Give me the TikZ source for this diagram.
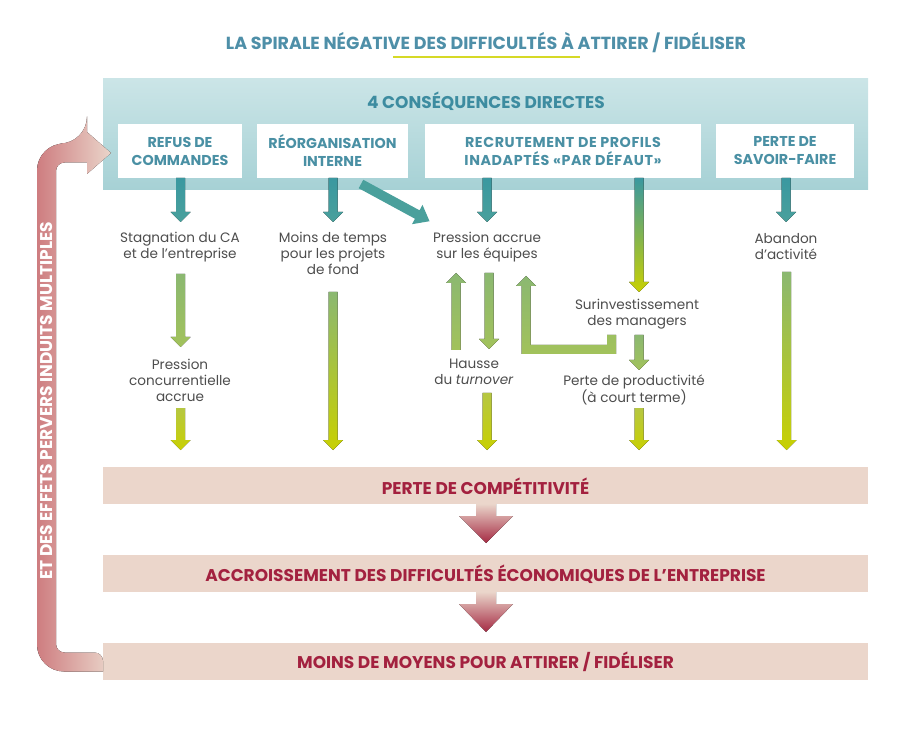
\documentclass[tikz,border=0pt]{standalone}
\usepackage{fontspec}
\setmainfont{Poppins}
\definecolor{titleblue}{HTML}{4E8FA8}
\definecolor{headteal}{HTML}{3D8CA0}
\definecolor{boxtxt}{HTML}{4A90A4}
\definecolor{boxtop}{HTML}{CBE5E7}
\definecolor{boxbot}{HTML}{A6D1D5}
\definecolor{tealA}{HTML}{3A98A0}
\definecolor{tealB}{HTML}{4AA09C}
\definecolor{greenA}{HTML}{8BB871}
\definecolor{greenB}{HTML}{A2C25B}
\definecolor{yelA}{HTML}{B6C742}
\definecolor{yelB}{HTML}{C8D002}
\definecolor{bandcol}{HTML}{EBD6CB}
\definecolor{redtxt}{HTML}{A3213F}
\definecolor{redarr}{HTML}{A52A43}
\definecolor{pinkdark}{HTML}{CE7D80}
\definecolor{pinklight}{HTML}{EAD5CA}
\definecolor{txtgray}{HTML}{4D4D4D}
\definecolor{underl}{HTML}{D6D926}
\newcommand\darr[5]{\fill[top color=#4,bottom color=#5] (#1-4.5,#2) -- (#1+4.5,#2) -- (#1+4.5,#3-10) -- (#1+10,#3-10) -- (#1,#3) -- (#1-10,#3-10) -- (#1-4.5,#3-10) -- cycle;}
\newcommand\uarr[5]{\fill[top color=#4,bottom color=#5] (#1-4.5,#3) -- (#1+4.5,#3) -- (#1+4.5,#2+10) -- (#1+10,#2+10) -- (#1,#2) -- (#1-10,#2+10) -- (#1-4.5,#2+10) -- cycle;}
\begin{document}
\begin{tikzpicture}[x=1pt,y=-1pt,
  body/.style={align=center,inner sep=0pt,text=txtgray,font=\fontsize{13.6}{16}\selectfont},
  boxlabel/.style={align=center,inner sep=0pt,text=boxtxt,font=\bfseries\fontsize{14.3}{18}\selectfont},
  bandlabel/.style={inner sep=0pt,text=redtxt,font=\bfseries\fontsize{17}{18}\selectfont},
  wbox/.style={fill=white,draw=none}]
\useasboundingbox (0,0) rectangle (900,743);
% title
\node[inner sep=0pt,text=titleblue,font=\bfseries\fontsize{17.5}{18}\selectfont] (title) at (486,43) {LA SPIRALE NÉGATIVE DES DIFFICULTÉS À ATTIRER / FIDÉLISER};
\draw[underl,line width=2pt] (393,57) -- (580,57);
% big teal box
\fill[top color=boxtop,bottom color=boxbot] (103,79) rectangle (868,190);
\node[inner sep=0pt,text=headteal,font=\bfseries\fontsize{17}{18}\selectfont] (cons) at (486,101) {4 CONSÉQUENCES DIRECTES};
\fill[wbox] (118,124) rectangle (242,178);
\fill[wbox] (257,124) rectangle (408,178);
\fill[wbox] (425,124) rectangle (701,178);
\fill[wbox] (716,124) rectangle (854,178);
\node[boxlabel] (b1) at (180,151) {REFUS DE\\COMMANDES};
\node[boxlabel] (b2) at (332.5,151) {RÉORGANISATION\\INTERNE};
\node[boxlabel,font=\bfseries\fontsize{14.3}{18}\addfontfeatures{LetterSpace=4}] (b3) at (563,151) {RECRUTEMENT DE PROFILS\\INADAPTÉS «PAR DÉFAUT»};
\node[boxlabel] (b4) at (785,151) {PERTE DE\\SAVOIR-FAIRE};
% teal arrows
\darr{180.5}{178}{222}{tealA}{tealB}
\darr{333}{178}{222}{tealA}{tealB}
\darr{487}{178}{222}{tealA}{tealB}
\darr{639}{178}{292}{tealA}{yelB}
\darr{786}{178}{222}{tealA}{tealB}
\begin{scope}[shift={(361,184)},rotate=-28.5]
\fill[tealB] (0,-4.8) -- (64,-4.8) -- (64,-11) -- (78,0) -- (64,11) -- (64,4.8) -- (0,4.8) -- cycle;
\end{scope}
% level 1 texts
\node[body] (t1) at (180,247) {Stagnation du CA\\et de l’entreprise};
\node[body] (t2) at (333,253) {Moins de temps\\pour les projets\\de fond};
\node[body] (t3) at (487,247) {Pression accrue\\sur les équipes};
\node[body] (t5) at (786,247) {Abandon\\d’activité};
\node[body] (t4) at (637,314) {Surinvestissement\\des managers};
% green arrows
\darr{180.5}{274}{347}{greenA}{greenB}
\node[body] (t6) at (180,380) {Pression\\concurrentielle\\accrue};
\darr{180.5}{408}{450}{yelA}{yelB}
\darr{333}{292}{450}{greenA}{yelB}
\uarr{456}{273}{350}{greenA}{greenB}
\darr{489}{273}{349}{greenA}{greenB}
\node[body] (t7) at (474,372) {Hausse\\du \textit{turnover}};
\darr{487}{393}{450}{yelA}{yelB}
\fill[top color=greenA,bottom color=greenB] (607,335) -- (616,335) -- (616,354) -- (521.5,354) -- (521.5,286) -- (516,286) -- (526,276) -- (536,286) -- (530.5,286) -- (530.5,345) -- (607,345) -- cycle;
\darr{639}{335}{370}{greenA}{greenB}
\node[body] (t8) at (634,390) {Perte de productivité\\(à court terme)};
\darr{639}{408}{450}{yelA}{yelB}
\darr{786.5}{272}{450}{greenA}{yelB}
% bands
\fill[bandcol] (103,467) rectangle (868,504);
\fill[bandcol] (103,555) rectangle (868,592);
\fill[bandcol] (103,643) rectangle (868,680);
\node[bandlabel] (p1) at (485.5,486) {PERTE DE COMPÉTITIVITÉ};
\node[bandlabel] (p2) at (485.5,574) {ACCROISSEMENT DES DIFFICULTÉS ÉCONOMIQUES DE L’ENTREPRISE};
\node[bandlabel] (p3) at (485.5,662) {MOINS DE MOYENS POUR ATTIRER / FIDÉLISER};
% red arrows
\fill[top color=pinklight,bottom color=redarr] (476,504) -- (496,504) -- (496,516) -- (513,516) -- (486,543) -- (459,516) -- (476,516) -- cycle;
\fill[top color=pinklight,bottom color=redarr] (476,592) -- (496,592) -- (496,604) -- (513,604) -- (486,632) -- (459,604) -- (476,604) -- cycle;
% spiral return arrow
\fill[left color=pinkdark,right color=pinklight] (103,671.5) [rounded corners=27pt] -- (37,671.5) -- (37,143.5) -- (87,143.5) [sharp corners] -- (87,132) -- (111,153) -- (87,174) -- (87,162.5) [rounded corners=8.5pt] -- (56,162.5) -- (56,652.5) -- (103,652.5) [sharp corners] -- cycle;
\node[rotate=90,inner sep=0pt,text=white,font=\bfseries\fontsize{17}{18}\selectfont] (spir) at (47,401) {ET DES EFFETS PERVERS INDUITS MULTIPLES};
\end{tikzpicture}
\end{document}
